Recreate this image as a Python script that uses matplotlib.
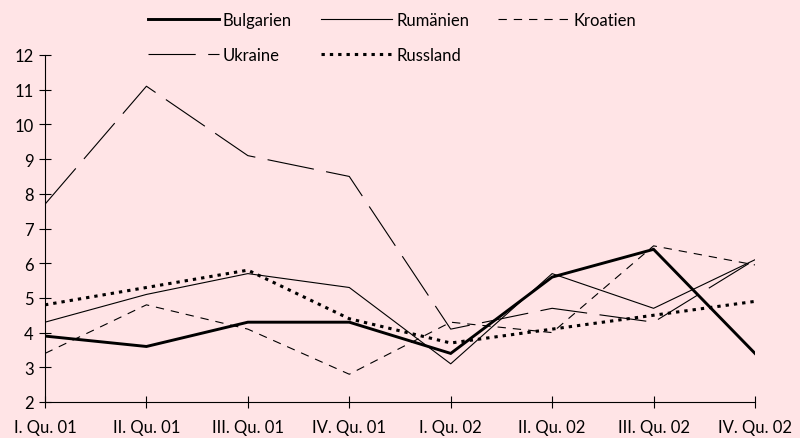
import matplotlib
matplotlib.use("Agg")
import matplotlib.pyplot as plt

categories = ["I. Qu. 01", "II. Qu. 01", "III. Qu. 01", "IV. Qu. 01",
              "I. Qu. 02", "II. Qu. 02", "III. Qu. 02", "IV. Qu. 02"]
bulgarien = [3.9, 3.6, 4.3, 4.3, 3.4, 5.6, 6.4, 3.4]
rumaenien = [4.3, 5.1, 5.7, 5.3, 3.1, 5.7, 4.7, 6.1]
kroatien = [3.4, 4.8, 4.1, 2.8, 4.3, 4.0, 6.5, 5.95]
ukraine = [7.7, 11.1, 9.1, 8.5, 4.1, 4.7, 4.3, 6.1]
russland = [4.8, 5.3, 5.8, 4.4, 3.7, 4.1, 4.5, 4.9]
yticks = list(range(2, 13))

plt.rcParams['font.family'] = ['Lato', 'DejaVu Sans']
plt.rcParams['lines.scale_dashes'] = False

bg = '#FFE4E6'
fig = plt.figure(figsize=(8.0, 4.39), dpi=100, facecolor=bg)
ax = fig.add_axes([45/800, 36/439, 710/800, 347/439])
ax.set_facecolor(bg)

x = list(range(len(categories)))
hb, = ax.plot(x, bulgarien, color='black', lw=2.1, solid_joinstyle='miter', label='Bulgarien')
hr, = ax.plot(x, rumaenien, color='black', lw=0.8, label='Rumänien')
hk, = ax.plot(x, kroatien, color='black', lw=0.8, dashes=(6, 5), label='Kroatien')
hu, = ax.plot(x, ukraine, color='black', lw=0.8, dashes=(34, 9), label='Ukraine')
hru, = ax.plot(x, russland, color='black', lw=2.2, dashes=(2.4, 3.6), label='Russland')

ax.set_xlim(0, 7)
ax.set_ylim(2, 12)
ax.set_xticks(x)
ax.set_xticklabels(categories)
ax.set_yticks(yticks)
for s in ['top', 'right']:
    ax.spines[s].set_visible(False)
for s in ['left', 'bottom']:
    ax.spines[s].set_linewidth(0.8)
ax.tick_params(axis='y', direction='inout', length=8, width=0.8, labelsize=12, pad=4)
ax.tick_params(axis='x', direction='inout', length=8, width=0.8, labelsize=12, pad=8)

handles = [hb, hu, hr, hru, hk]
leg = fig.legend(handles, [h.get_label() for h in handles], ncol=3,
                 loc='upper left', bbox_to_anchor=(148/800, 1 - 13/439),
                 frameon=False, handlelength=4.25, handletextpad=0.25,
                 columnspacing=1.75, labelspacing=1.15, fontsize=12,
                 borderpad=0, borderaxespad=0)

fig.savefig('out.png', dpi=100, facecolor=bg)
